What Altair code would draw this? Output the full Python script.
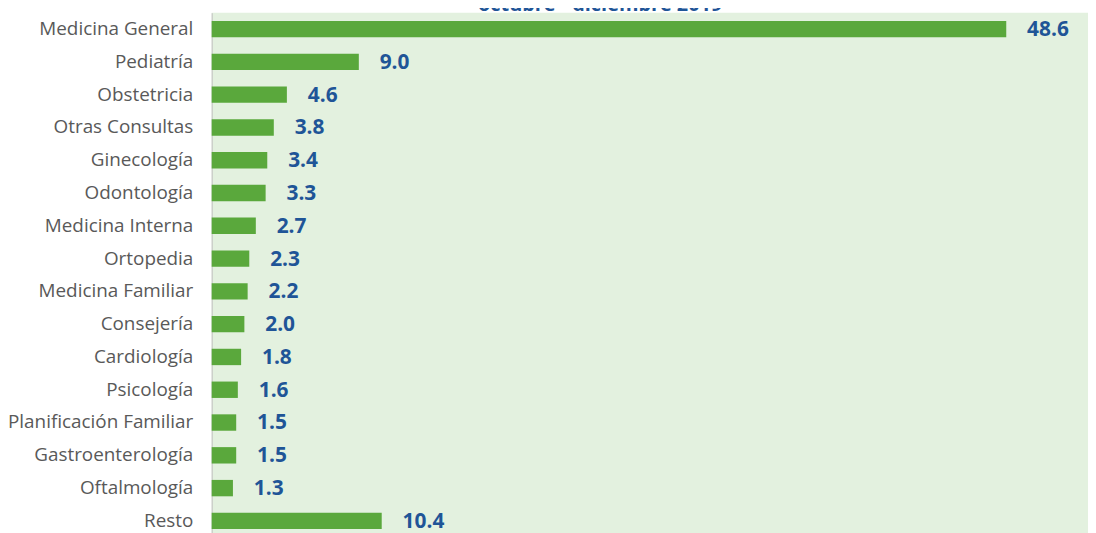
import altair as alt
import pandas as pd

categories = ["Medicina General", "Pediatría", "Obstetricia", "Otras Consultas", "Ginecología",
              "Odontología", "Medicina Interna", "Ortopedia", "Medicina Familiar", "Consejería\u00a0",
              "Cardiología", "Psicología", "Planificación Familiar", "Gastroenterología",
              "Oftalmología", "Resto"]
values = [48.6, 9.0, 4.6, 3.8, 3.4, 3.3, 2.7, 2.3, 2.2, 2.0, 1.8, 1.6, 1.5, 1.5, 1.3, 10.4]
title_text = "octubre - diciembre 2019"

df = pd.DataFrame({"cat": categories, "val": values})

BAR = "#5AA83C"
BLUE = "#1F5597"

base = alt.Chart(df).encode(
    y=alt.Y("cat:N", sort=categories,
            scale=alt.Scale(paddingInner=0.5, paddingOuter=0.25),
            axis=alt.Axis(title=None, ticks=False, labelPadding=19, labelFontSize=19,
                          labelLimit=400,
                          labelColor="#595959", labelFont="Open Sans",
                          domainColor="#c0c0c0", domainWidth=1, grid=False))
)

bars = base.mark_bar(color=BAR).encode(
    x=alt.X("val:Q", scale=alt.Scale(domain=[0, 53.6], nice=False), axis=None)
)

labels = base.mark_text(align="left", dx=21, dy=1, fontWeight="bold", fontSize=21,
                        font="Open Sans", color=BLUE).encode(
    x=alt.X("val:Q"),
    text=alt.Text("val:Q", format=".1f")
)

title = alt.Chart(pd.DataFrame({"t": [title_text]})).mark_text(
    align="center", baseline="alphabetic", fontWeight="bold", fontSize=20,
    font="Open Sans", color=BLUE
).encode(x=alt.value(391), y=alt.value(-2), text="t:N")

chart = alt.layer(bars, labels, title).properties(
    width=882, height=528,
    autosize=alt.AutoSizeParams(type="none"),
    padding={"left": 205, "top": 3, "right": 0, "bottom": 0}
).configure_view(fill="#E3F1DF", stroke=None)

chart.save("out.html", embed_options={"renderer": "svg", "actions": False})
